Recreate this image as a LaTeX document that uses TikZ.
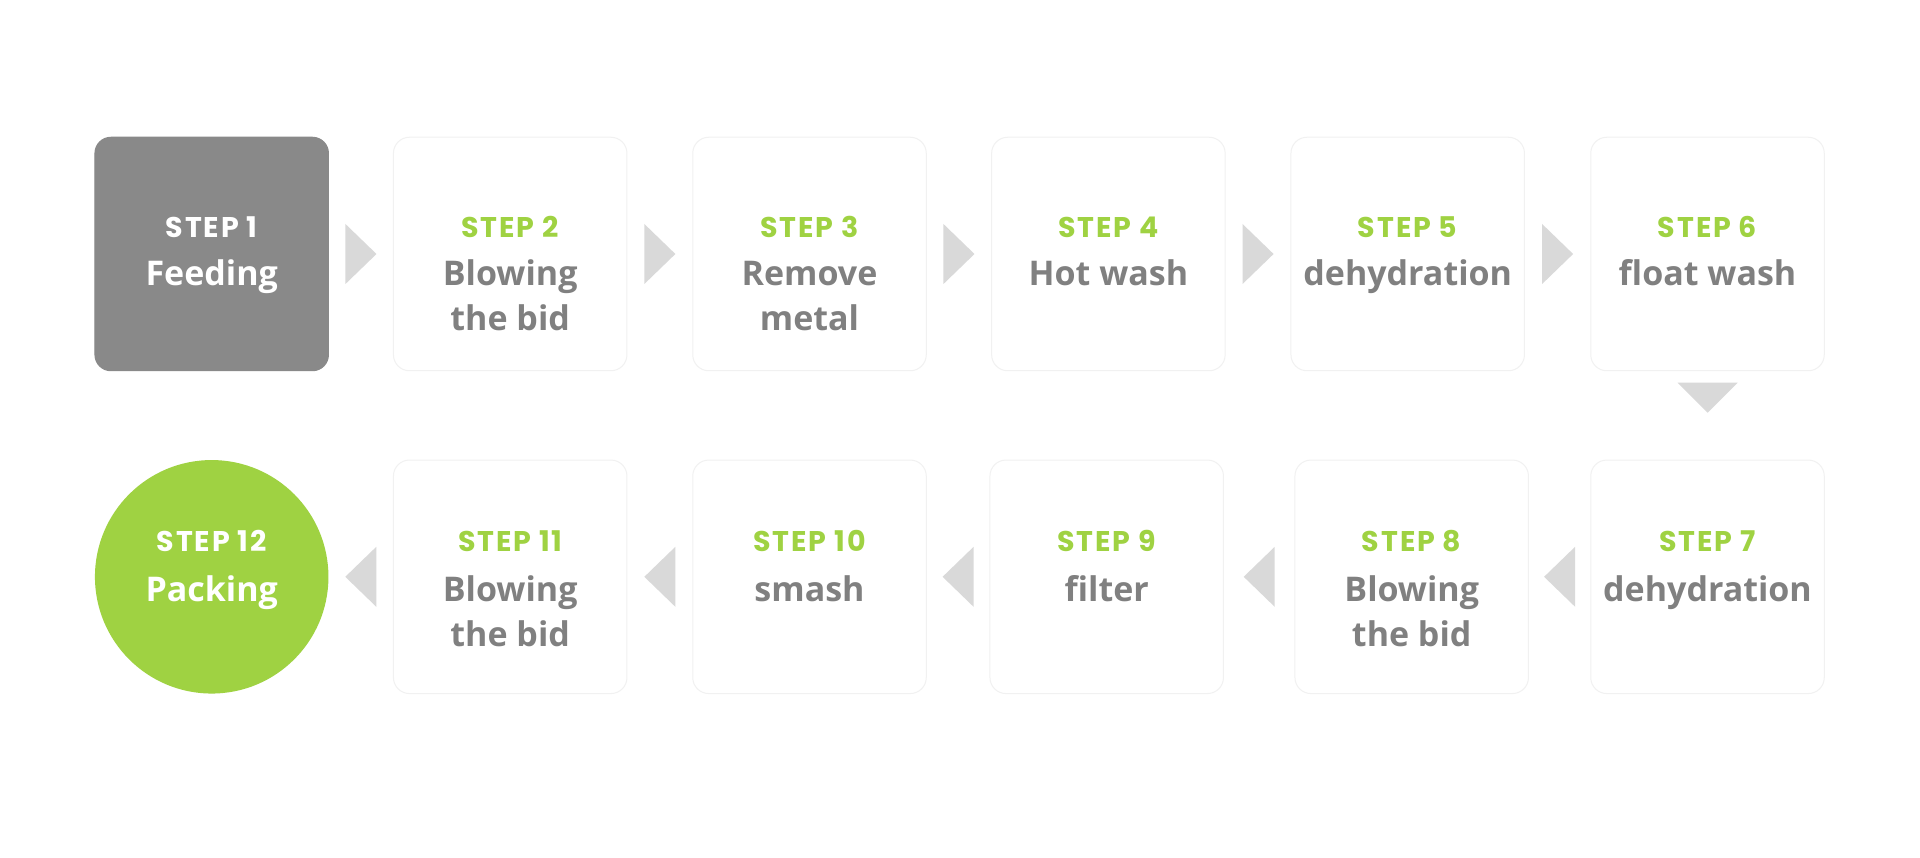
\documentclass[tikz,border=0pt]{standalone}
\usepackage{fontspec}
\newfontfamily\stepfont{Poppins}[LetterSpace=6.5]
\newfontfamily\titlefont{Open Sans}
\usetikzlibrary{calc}
\definecolor{stepgreen}{HTML}{9FD242}
\definecolor{boxgray}{HTML}{898989}
\definecolor{titlegray}{HTML}{808080}
\definecolor{trigray}{HTML}{D9D9D9}
\definecolor{edgegray}{HTML}{F1F1F1}
\begin{document}
\begin{tikzpicture}[x=1pt,y=-1pt,
  card/.style={rectangle, rounded corners=16pt, minimum width=233.5pt, minimum height=233.5pt, inner sep=0pt, draw=edgegray, line width=1pt, fill=white},
  darkcard/.style={card, fill=boxgray, draw=boxgray},
  endcircle/.style={circle, minimum size=233.5pt, inner sep=0pt, fill=stepgreen},
  steplbl/.style={anchor=base, inner sep=0pt, text=stepgreen, font=\stepfont\bfseries\fontsize{28.5}{28.5}\selectfont},
  titlelbl/.style={anchor=base, inner sep=0pt, text=titlegray, font=\titlefont\bfseries\fontsize{34}{34}\selectfont},
  tri/.style={fill=trigray, draw=none}
]
\useasboundingbox[fill=white] (0,0) rectangle (1920,858);

% ---------- row 1 ----------
\node[darkcard] (s1) at (211.7,254) {};
\node[card] (s2) at (510.2,254) {};
\node[card] (s3) at (809.5,254) {};
\node[card] (s4) at (1108.4,254) {};
\node[card] (s5) at (1407.7,254) {};
\node[card] (s6) at (1707.5,254) {};

% ---------- row 2 ----------
\node[endcircle] (s12) at (211.7,576.8) {};
\node[card] (s11) at (510.2,576.8) {};
\node[card] (s10) at (809.5,576.8) {};
\node[card] (s9) at (1106.7,576.8) {};
\node[card] (s8) at (1411.7,576.8) {};
\node[card] (s7) at (1707.5,576.8) {};

% ---------- labels row 1 ----------
\node[steplbl, text=white] (s1a) at ($(s1.north)+(0,100.3)$) {STEP 1};
\node[titlelbl, text=white] (s1b) at ($(s1.north)+(0,148.3)$) {Feeding};

\node[steplbl] (s2a) at ($(s2.north)+(0,100.3)$) {STEP 2};
\node[titlelbl] (s2b) at ($(s2.north)+(0,148.3)$) {Blowing};
\node[titlelbl] (s2c) at ($(s2.north)+(0,193.5)$) {the bid};

\node[steplbl] (s3a) at ($(s3.north)+(0,100.3)$) {STEP 3};
\node[titlelbl] (s3b) at ($(s3.north)+(0,148.3)$) {Remove};
\node[titlelbl] (s3c) at ($(s3.north)+(0,193.5)$) {metal};

\node[steplbl] (s4a) at ($(s4.north)+(0,100.3)$) {STEP 4};
\node[titlelbl] (s4b) at ($(s4.north)+(0,148.3)$) {Hot wash};

\node[steplbl] (s5a) at ($(s5.north)+(0,100.3)$) {STEP 5};
\node[titlelbl] (s5b) at ($(s5.north)+(0,148.3)$) {dehydration};

\node[steplbl] (s6a) at ($(s6.north)+(0,100.3)$) {STEP 6};
\node[titlelbl] (s6b) at ($(s6.north)+(0,148.3)$) {float wash};

% ---------- labels row 2 ----------
\node[steplbl] (s7a) at ($(s7.north)+(0,92)$) {STEP 7};
\node[titlelbl] (s7b) at ($(s7.north)+(0,142)$) {dehydration};

\node[steplbl] (s8a) at ($(s8.north)+(0,92)$) {STEP 8};
\node[titlelbl] (s8b) at ($(s8.north)+(0,142)$) {Blowing};
\node[titlelbl] (s8c) at ($(s8.north)+(0,186.5)$) {the bid};

\node[steplbl] (s9a) at ($(s9.north)+(0,92)$) {STEP 9};
\node[titlelbl] (s9b) at ($(s9.north)+(0,142)$) {filter};

\node[steplbl] (s10a) at ($(s10.north)+(0,92)$) {STEP 10};
\node[titlelbl] (s10b) at ($(s10.north)+(0,142)$) {smash};

\node[steplbl] (s11a) at ($(s11.north)+(0,92)$) {STEP 11};
\node[titlelbl] (s11b) at ($(s11.north)+(0,142)$) {Blowing};
\node[titlelbl] (s11c) at ($(s11.north)+(0,186.5)$) {the bid};

\node[steplbl, text=white] (s12a) at ($(s12.north)+(0,92)$) {STEP 12};
\node[titlelbl, text=white] (s12b) at ($(s12.north)+(0,142)$) {Packing};

% ---------- arrows row 1 (right) ----------
\foreach \a/\b in {s1/s2, s2/s3, s3/s4, s4/s5, s5/s6}
  \fill[tri] ($(\a.east)!0.5!(\b.west)$) ++(-15.5,-30) -- ++(31,30) -- ++(-31,30) -- cycle;

% ---------- arrow down ----------
\fill[tri] ($(s6.south)+(0,11.5)$) ++(-30,0) -- ++(60,0) -- ++(-30,30) -- cycle;

% ---------- arrows row 2 (left) ----------
\foreach \a/\b in {s12/s11, s11/s10, s10/s9, s9/s8, s8/s7}
  \fill[tri] ($(\a.east)!0.5!(\b.west)$) ++(15.5,-30) -- ++(-31,30) -- ++(31,30) -- cycle;
\end{tikzpicture}
\end{document}
